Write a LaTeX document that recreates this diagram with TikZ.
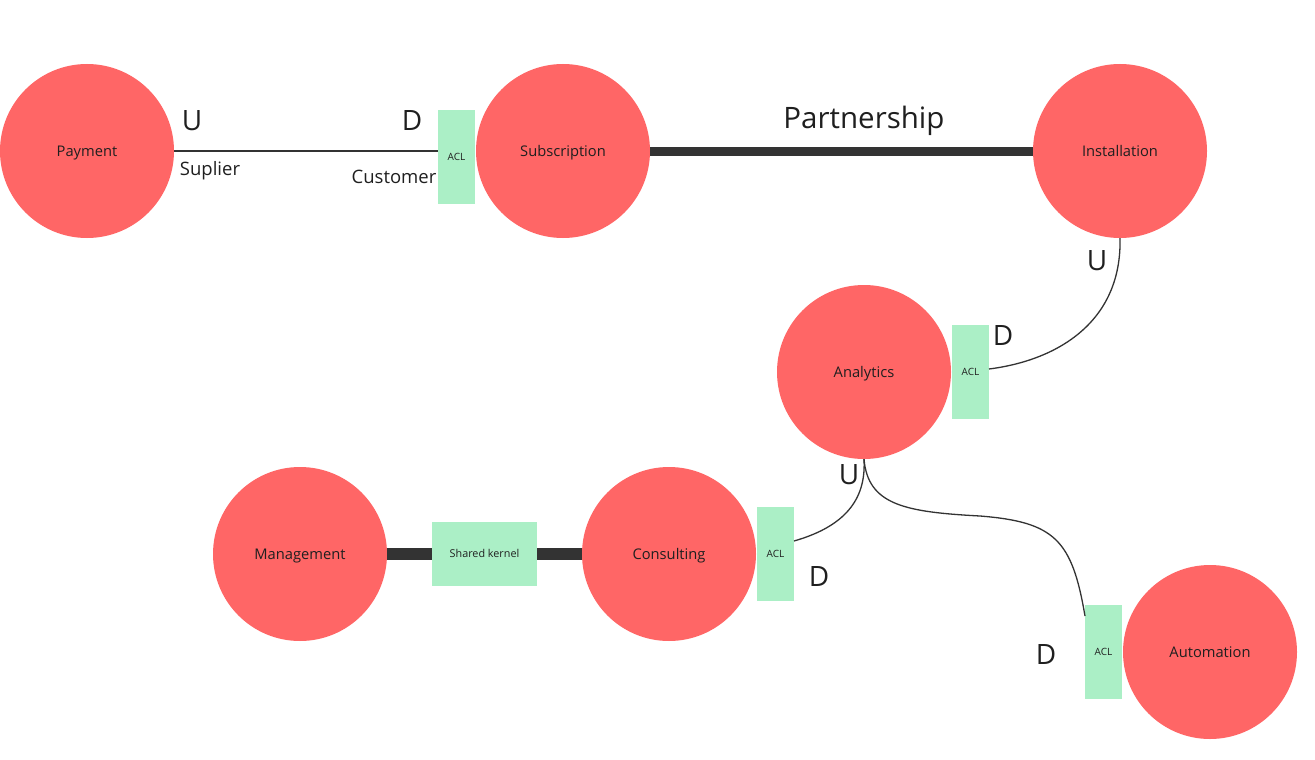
\documentclass[tikz,border=0pt]{standalone}
\usepackage{fontspec}
\setmainfont{Open Sans}
\definecolor{ctxred}{HTML}{FF6666}
\definecolor{aclgreen}{HTML}{ABEFC6}
\definecolor{lineclr}{HTML}{333333}
\definecolor{txtclr}{HTML}{1F1F1F}
\begin{document}
\begin{tikzpicture}[x=1pt,y=-1pt,
  ctx/.style={circle,fill=ctxred,draw=none,minimum size=174pt,inner sep=0pt,font=\fontsize{14.7}{16}\selectfont,text=txtclr,text height=10pt,text depth=0pt},
  acl/.style={rectangle,fill=aclgreen,draw=none,minimum width=37pt,minimum height=94pt,inner sep=0pt,font=\fontsize{10}{12}\selectfont,text=txtclr,text height=7pt,text depth=0pt},
  kernel/.style={rectangle,fill=aclgreen,draw=none,minimum width=105pt,minimum height=64pt,inner sep=0pt,font=\fontsize{10.8}{12}\selectfont,text=txtclr,text height=7.5pt,text depth=0pt},
  ud/.style={font=\fontsize{28}{30}\selectfont,text=txtclr,inner sep=0pt},
  role/.style={font=\fontsize{18.5}{20}\selectfont,text=txtclr,inner sep=0pt},
  thin/.style={draw=lineclr,line width=1.5pt},
  thick/.style={draw=lineclr,line width=10pt},
]
\useasboundingbox (0,0) rectangle (1315,760);
\fill[white] (0,0) rectangle (1315,760);

\node[ctx] (payment) at (87,151) {Payment};
\node[ctx] (subscription) at (563,151) {Subscription};
\node[ctx] (installation) at (1120,151) {Installation};
\node[ctx] (analytics) at (864,372) {Analytics};
\node[ctx] (management) at (300,554) {Management};
\node[ctx] (consulting) at (669,554) {Consulting};
\node[ctx] (automation) at (1210,652) {Automation};

\node[acl] (aclsub) at (456.5,156.5) {ACL};
\node[acl] (aclana) at (970.5,372) {ACL};
\node[acl] (aclcon) at (775.5,554) {ACL};
\node[acl] (aclaut) at (1103.5,652) {ACL};
\node[kernel] (kernel) at (484.5,554) {Shared kernel};

\draw[thin] (payment.east) -- (payment.east -| aclsub.west);
\draw[thick,line width=9pt] (subscription.east) -- (installation.west);
\draw[thick,line width=12pt] (management.east) -- (kernel.west);
\draw[thick,line width=12pt] (kernel.east) -- (consulting.west);

\coordinate (anaright) at (989,369);
\coordinate (conright) at (794,541);
\coordinate (auttop) at (1085,616);
\draw[thin,line width=1.3pt] (installation.south) .. controls (1122,320) and (1060,360) .. (anaright);
\draw[thin,line width=1.3pt] (analytics.south) .. controls (866,495) and (850,525) .. (conright);
\draw[thin,line width=1.3pt] (analytics.south) .. controls (868,505) and (905,512) .. (980,516)
  .. controls (1055,522) and (1072,540) .. (auttop);

\node[ud] (u1) at (192,121) {U};
\node[ud] (d1) at (412,121) {D};
\node[role] (sup) at (210,171) {Suplier};
\node[role] (cus) at (394,177) {Customer};
\node[font=\fontsize{29.5}{32}\selectfont,text=txtclr,inner sep=0pt] (partner) at (864,121) {Partnership};
\node[ud] (u2) at (1097,261) {U};
\node[ud] (d2) at (1003,336) {D};
\node[ud] (u3) at (849,475) {U};
\node[ud] (d3) at (819,577) {D};
\node[ud] (d4) at (1046,654) {D};
\end{tikzpicture}
\end{document}
